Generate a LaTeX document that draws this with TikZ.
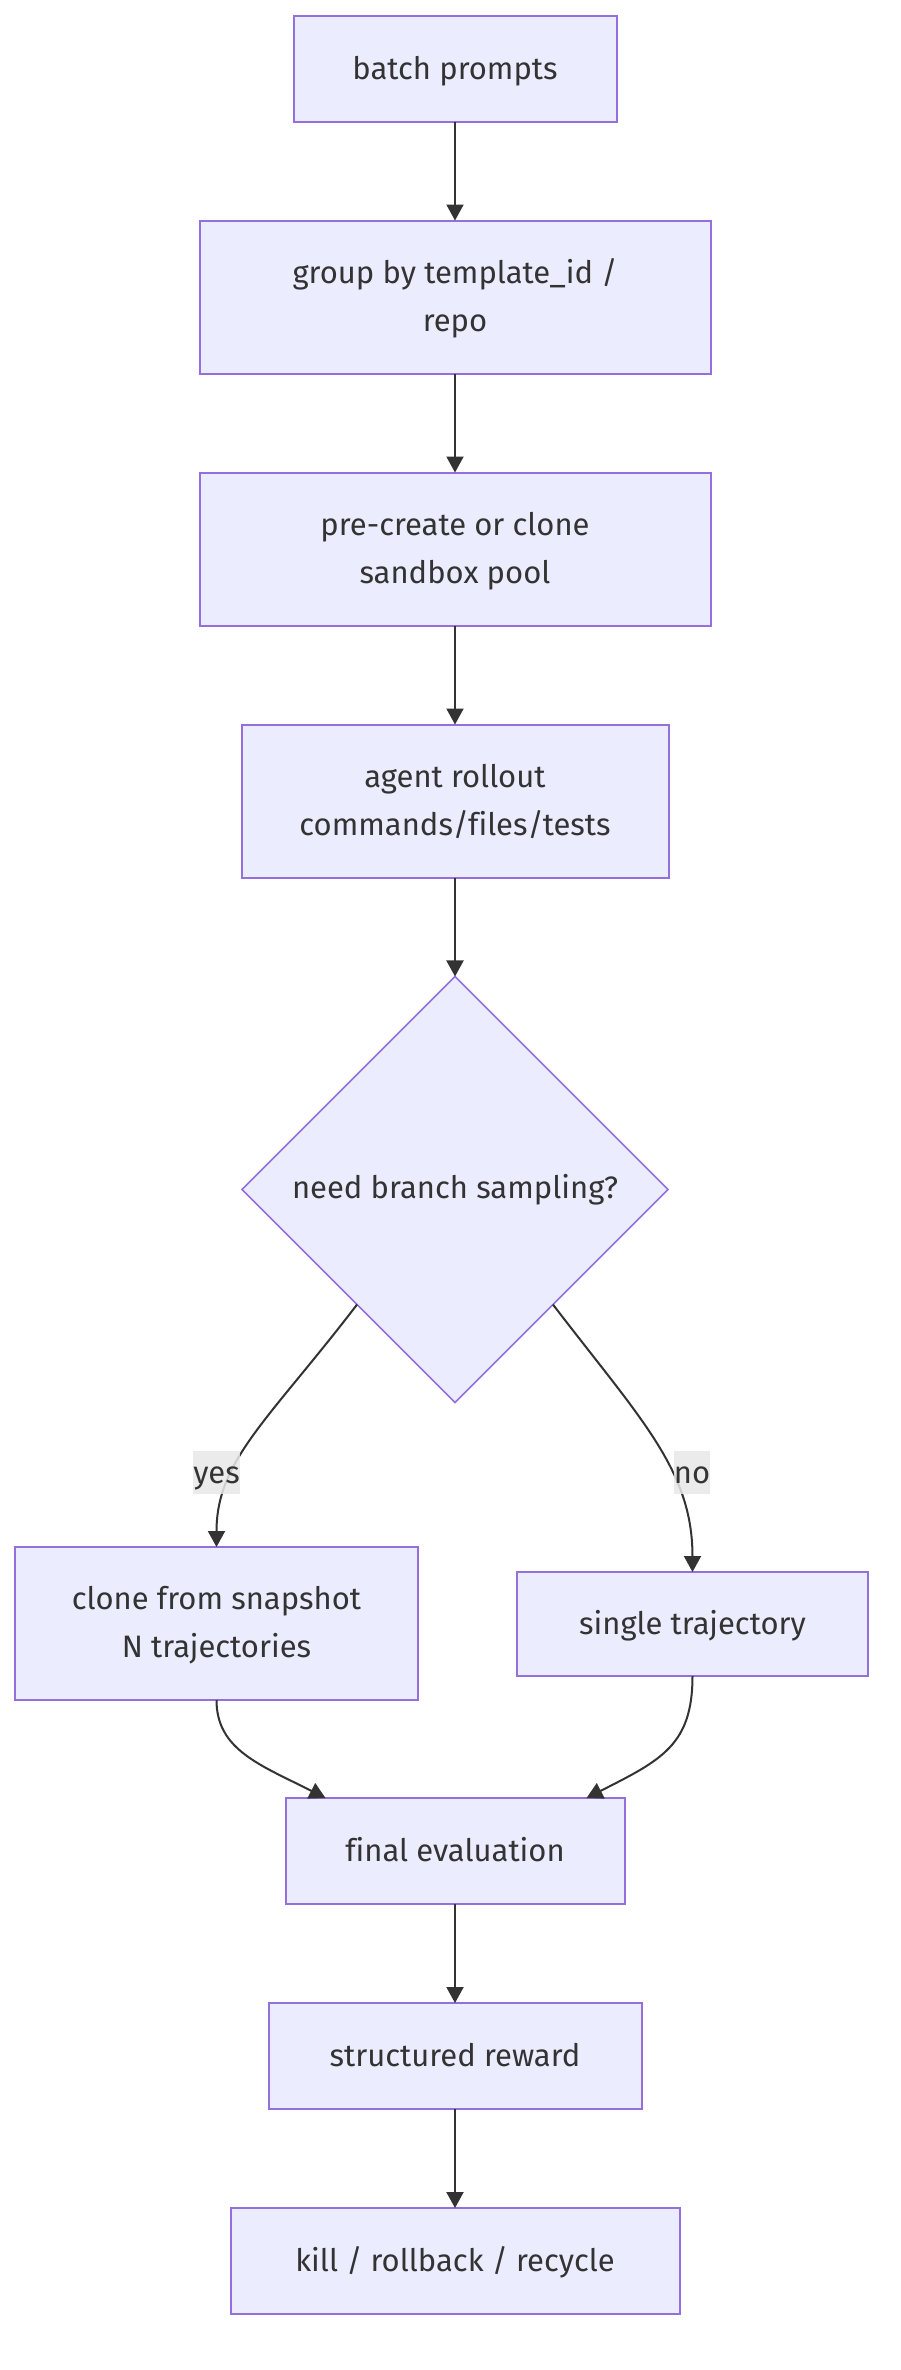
\documentclass[tikz,border=0pt]{standalone}
\usepackage{fontspec}
\setmainfont{Fira Sans}[Ligatures=NoCommon]
\usetikzlibrary{positioning,arrows.meta,shapes.geometric,calc}
\definecolor{boxfill}{HTML}{ECECFF}
\definecolor{boxline}{HTML}{9370DB}
\definecolor{ink}{HTML}{333333}
\definecolor{labfill}{HTML}{E8E8E8}
\begin{document}
\begin{tikzpicture}[x=1pt, y=-1pt,
  font=\fontsize{31}{48}\selectfont,
  box/.style={draw=boxline, fill=boxfill, line width=2pt, outer sep=0pt, text=ink, align=center, inner sep=0pt, text height=28pt, text depth=7pt, minimum height=106pt},
  tall/.style={box, text height=75pt, minimum height=153pt},
  dec/.style={diamond, shape aspect=1, draw=boxline, fill=boxfill, line width=1.6pt, outer sep=0pt, text=ink, inner sep=0pt, minimum width=426pt, minimum height=426pt},
  arr/.style={-{Triangle[length=16pt,width=17pt]}, line width=2pt, draw=ink},
  lab/.style={fill=labfill, fill opacity=0.85, text opacity=1, text=ink, inner sep=0pt, text height=28pt, text depth=7pt, minimum width=45pt, minimum height=43pt},
  node distance=99pt]
\useasboundingbox (0,0) rectangle (900,2370);
\node[box, minimum width=323pt] (batch) at (455,68.5) {batch prompts};
\node[tall, minimum width=511pt, below=of batch] (group) {group by template\_id /\\repo};
\node[tall, minimum width=511pt, below=of group] (pool) {pre-create or clone\\sandbox pool};
\node[tall, minimum width=427pt, below=of pool] (rollout) {agent rollout\\commands/files/tests};
\node[dec, below=of rollout] (branch) {need branch sampling?};
\node[tall, minimum width=403pt] (clone) at (216.5,1623.5) {clone from snapshot\\N trajectories};
\node[box, minimum width=351pt, minimum height=104pt] (single) at (692.5,1624) {single trajectory};
\node[box, minimum width=339pt] (final) at (455,1851) {final evaluation};
\node[box, minimum width=373pt, below=of final] (reward) {structured reward};
\node[box, minimum width=449pt, below=of reward] (cleanup) {kill / rollback / recycle};
\draw[arr] (batch) -- (group);
\draw[arr] (group) -- (pool);
\draw[arr] (pool) -- (rollout);
\draw[arr] (rollout) -- (branch);
\draw[arr] ($(branch.west)!0.54!(branch.south)$) .. controls +(-88,115) and +(0,-87) .. (clone.north);
\draw[arr] ($(branch.east)!0.54!(branch.south)$) .. controls +(88,115) and +(0,-102) .. (single.north);
\draw[arr] (clone.south) .. controls +(0,50) and +(-65,-33) .. ($(final.north west)+(40,0)$);
\draw[arr] (single.south) .. controls +(0,69) and +(75,-38) .. ($(final.north east)+(-38,0)$);
\draw[arr] (final) -- (reward);
\draw[arr] (reward) -- (cleanup);
\node[lab] (yes) at (216.5,1472.5) {yes};
\node[lab, minimum width=32pt] (no) at (692,1472.5) {no};
\end{tikzpicture}
\end{document}
